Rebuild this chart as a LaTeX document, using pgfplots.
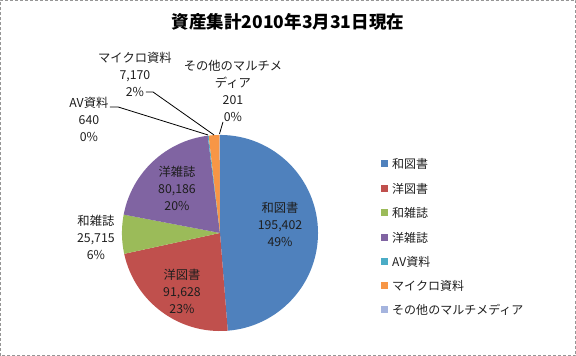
\documentclass[border=0pt]{standalone}
\usepackage{pgfplots}
\pgfplotsset{compat=1.18}
\usepackage{pgfplotstable}
\usepackage{fontspec}
\setmainfont{Noto Sans CJK JP}
\definecolor{cA}{HTML}{4F81BD}
\definecolor{cB}{HTML}{C0504D}
\definecolor{cC}{HTML}{9BBB59}
\definecolor{cD}{HTML}{8064A2}
\definecolor{cE}{HTML}{4BACC6}
\definecolor{cF}{HTML}{F79646}
\definecolor{cG}{RGB}{165,180,222}
\definecolor{txt}{RGB}{30,30,30}
\definecolor{frame}{RGB}{150,150,150}

\pgfplotstableread[col sep=comma]{
label,value
和図書,195402
洋図書,91628
和雑誌,25715
洋雑誌,80186
AV資料,640
マイクロ資料,7170
その他のマルチメディア,201
}\piedata

\pgfplotstablegetelem{0}{value}\of\piedata\let\vA\pgfplotsretval
\pgfplotstablegetelem{1}{value}\of\piedata\let\vB\pgfplotsretval
\pgfplotstablegetelem{2}{value}\of\piedata\let\vC\pgfplotsretval
\pgfplotstablegetelem{3}{value}\of\piedata\let\vD\pgfplotsretval
\pgfplotstablegetelem{4}{value}\of\piedata\let\vE\pgfplotsretval
\pgfplotstablegetelem{5}{value}\of\piedata\let\vF\pgfplotsretval
\pgfplotstablegetelem{6}{value}\of\piedata\let\vG\pgfplotsretval
\edef\total{\fpeval{\vA+\vB+\vC+\vD+\vE+\vF+\vG}}
\edef\aA{90}
\edef\aB{\fpeval{round(\aA-360*\vA/\total,4)}}
\edef\aC{\fpeval{round(\aB-360*\vB/\total,4)}}
\edef\aD{\fpeval{round(\aC-360*\vC/\total,4)}}
\edef\aE{\fpeval{round(\aD-360*\vD/\total,4)}}
\edef\aF{\fpeval{round(\aE-360*\vE/\total,4)}}
\edef\aG{\fpeval{round(\aF-360*\vF/\total,4)}}
\edef\aH{\fpeval{round(\aG-360*\vG/\total,4)}}

\newcommand\lab{\fontsize{12.3}{17}\selectfont}
\newcommand\slice[3]{%
  \fill[#1] (axis cs:220,123) -- ([shift={(#2:98pt)}]axis cs:220,123)
    arc[start angle=#2, end angle=#3, radius=98pt] -- cycle;}

\begin{document}
\begin{tikzpicture}
\begin{axis}[hide axis, x=1pt, y=1pt, xmin=0, xmax=576, ymin=0, ymax=356, clip=false]
% frame
\draw[frame, dash pattern=on 3pt off 2pt, line width=0.8pt] (axis cs:0.5,0.5) rectangle (axis cs:575.5,355.5);
% title
\node[font=\bfseries\fontsize{17.5}{20}\selectfont, text=black] at (axis cs:288,334) {資産集計2010年3月31日現在};
% slices
\slice{cA}{\aA}{\aB}
\slice{cB}{\aB}{\aC}
\slice{cC}{\aC}{\aD}
\slice{cD}{\aD}{\aE}
\slice{cE}{\aE}{\aF}
\slice{cF}{\aF}{\aG}
\slice{cG}{\aG}{\aH}
% inner labels
\node[font=\lab, align=center, text=txt] at (axis cs:280,132) {和図書\\195,402\\49\%};
\node[font=\lab, align=center, text=txt] at (axis cs:182,65) {洋図書\\91,628\\23\%};
\node[font=\lab, align=center, text=txt] at (axis cs:177,168) {洋雑誌\\80,186\\20\%};
\node[font=\lab, align=center, text=txt] at (axis cs:96,119) {和雑誌\\25,715\\6\%};
\node[font=\lab, align=center, text=txt] at (axis cs:135,281.5) {マイクロ資料\\7,170\\2\%};
\node[font=\lab, align=center, text=txt] at (axis cs:89,237) {AV資料\\640\\0\%};
\node[font=\lab, align=center, text=txt] at (axis cs:233,265) {その他のマルチメ\\ディア\\201\\0\%};
% leader lines
\draw[black, line width=0.8pt] (axis cs:146,264) -- (axis cs:153,264) -- (axis cs:214,221);
\draw[black, line width=0.8pt] (axis cs:110,249) -- (axis cs:118,249) -- (axis cs:208,221);
\draw[black, line width=0.8pt] (axis cs:223,234) -- (axis cs:219.5,222);
% legend
\fill[cA] (axis cs:381,189) rectangle (axis cs:388,196);
\fill[cB] (axis cs:381,164) rectangle (axis cs:388,171);
\fill[cC] (axis cs:381,140) rectangle (axis cs:388,147);
\fill[cD] (axis cs:381,115) rectangle (axis cs:388,122);
\fill[cE] (axis cs:381,91) rectangle (axis cs:388,98);
\fill[cF] (axis cs:381,67) rectangle (axis cs:388,74);
\fill[cG] (axis cs:381,43) rectangle (axis cs:388,50);
\node[font=\fontsize{12}{14}\selectfont, text=txt, anchor=west, inner sep=0pt] at (axis cs:392,192.5) {和図書};
\node[font=\fontsize{12}{14}\selectfont, text=txt, anchor=west, inner sep=0pt] at (axis cs:392,167.5) {洋図書};
\node[font=\fontsize{12}{14}\selectfont, text=txt, anchor=west, inner sep=0pt] at (axis cs:392,143.5) {和雑誌};
\node[font=\fontsize{12}{14}\selectfont, text=txt, anchor=west, inner sep=0pt] at (axis cs:392,118.5) {洋雑誌};
\node[font=\fontsize{12}{14}\selectfont, text=txt, anchor=west, inner sep=0pt] at (axis cs:392,94.5) {AV資料};
\node[font=\fontsize{12}{14}\selectfont, text=txt, anchor=west, inner sep=0pt] at (axis cs:392,70.5) {マイクロ資料};
\node[font=\fontsize{12}{14}\selectfont, text=txt, anchor=west, inner sep=0pt] at (axis cs:392,46.5) {その他のマルチメディア};
\end{axis}
\end{tikzpicture}
\end{document}
